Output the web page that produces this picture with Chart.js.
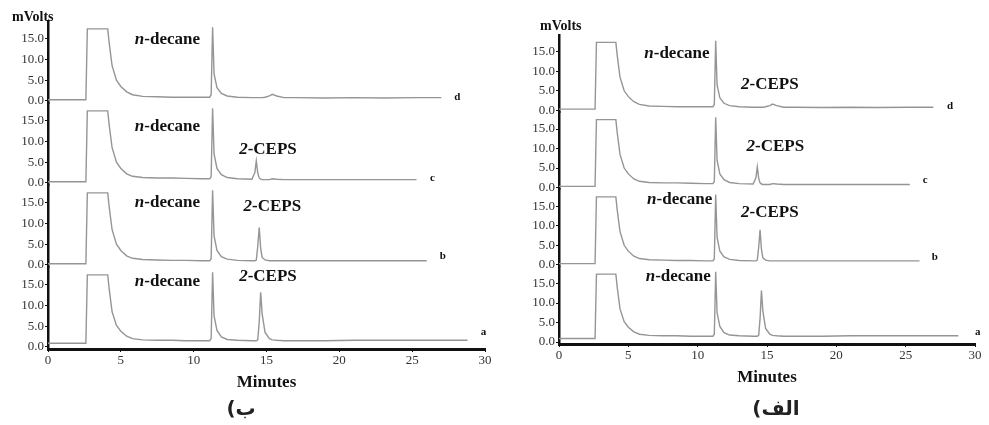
<!DOCTYPE html>
<html>
<head>
<meta charset="utf-8">
<script src="https://cdn.jsdelivr.net/npm/chart.js@4.4.1/dist/chart.umd.min.js"></script>
<style>
    body { margin: 0; background: #fff; width: 989px; height: 425px; position: relative; overflow: hidden; }
    #left_wrap { position: absolute; left: 0; top: 0; }
    #right_wrap { position: absolute; left: 505px; top: 0; }
    .caption { position: absolute; top: 396px; width: 100px; text-align: center; direction: rtl;
               font-family: "DejaVu Sans", sans-serif; font-weight: bold; font-size: 20px; color: #222; }
</style>
</head>
<body>
<div id="left_wrap"><canvas id="left_chart" width="500" height="400"></canvas></div>
<div id="right_wrap"><canvas id="right_chart" width="484" height="400"></canvas></div>
<div class="caption" style="left:191px;">ب)</div>
<div class="caption" style="left:726px;">الف)</div>
<script>
// Retention time (minutes)
const minutes = [0, 2.6, 2.7, 2.8, 4.1, 4.2, 4.4, 4.7, 5.0, 5.4, 5.8, 6.5, 7.5, 8.5, 9.5, 10.5,
    11.1, 11.2, 11.3, 11.4, 11.6, 11.9, 12.3, 13.0, 14.0, 14.2, 14.3, 14.4, 14.5, 14.6, 14.7, 14.9,
    15.2, 15.4, 15.7, 16.2, 17.0, 19.0, 21.0, 23.0, 25.3, 26.0, 27.0, 28.8];

// Signal (mVolts) of each trace
const trace_a = [0.9, 0.9, 17.4, 17.4, 17.4, 14, 8.5, 5.2, 3.8, 2.6, 2.0, 1.7, 1.6, 1.6, 1.5, 1.5,
    1.5, 2.0, 18, 7.5, 4.0, 2.4, 1.8, 1.6, 1.5, 1.5, 1.5, 1.7, 6.0, 13.2, 8.0, 3.5,
    2.0, 1.7, 1.6, 1.5, 1.5, 1.5, 1.6, 1.6, 1.6, 1.6, 1.6, 1.6];
const trace_b = [0.3, 0.3, 17.4, 17.4, 17.4, 14, 8.5, 5.0, 3.5, 2.2, 1.6, 1.3, 1.2, 1.1, 1.1, 1.0,
    1.0, 1.5, 18, 7, 3.5, 2.0, 1.4, 1.1, 1.0, 1.0, 1.2, 4.5, 9.0, 4.0, 1.8, 1.2,
    1.0, 1.0, 1.0, 1.0, 1.0, 1.0, 1.0, 1.0, 1.0, 1.0, null, null];
const trace_c = [0.3, 0.3, 17.4, 17.4, 17.4, 14, 8.5, 5.0, 3.5, 2.2, 1.6, 1.3, 1.2, 1.2, 1.1, 1.0,
    1.0, 1.5, 18, 7, 3.5, 2.0, 1.3, 1.0, 0.9, 2.5, 5.3, 2.4, 1.2, 0.9, 0.8, 0.8,
    0.8, 1.0, 0.9, 0.8, 0.8, 0.8, 0.8, 0.8, 0.8, null, null, null];
const trace_d = [0.3, 0.3, 17.4, 17.4, 17.4, 14, 8.5, 5.0, 3.5, 2.2, 1.5, 1.1, 1.0, 0.9, 0.9, 0.9,
    0.9, 1.5, 17.8, 6.5, 3.2, 1.8, 1.2, 0.9, 0.8, 0.8, 0.8, 0.8, 0.8, 0.8, 0.8, 0.9,
    1.2, 1.6, 1.2, 0.8, 0.8, 0.7, 0.8, 0.7, 0.8, 0.8, 0.8, null];

// Tick labels
const y_ticks = [0, 5, 10, 15];
const x_ticks = [0, 5, 10, 15, 20, 25, 30];

// Peak names [axis, minutes, mVolts, italic part, bold part]
const left_notes = [
    ['yd', 8.2, 14.7, 'n', '-decane'],
    ['yc', 8.2, 13.5, 'n', '-decane'],
    ['yc', 15.1, 8.0, '2', '-CEPS'],
    ['yb', 8.2, 15.0, 'n', '-decane'],
    ['yb', 15.4, 14.2, '2', '-CEPS'],
    ['ya', 8.2, 15.7, 'n', '-decane'],
    ['ya', 15.1, 16.9, '2', '-CEPS']
];
const right_notes = [
    ['yd', 8.5, 14.6, 'n', '-decane'],
    ['yd', 15.2, 6.7, '2', '-CEPS'],
    ['yc', 15.6, 10.4, '2', '-CEPS'],
    ['yb', 8.7, 16.7, 'n', '-decane'],
    ['yb', 15.2, 13.5, '2', '-CEPS'],
    ['ya', 8.6, 16.9, 'n', '-decane']
];
// Trace letters [axis, minutes, mVolts, letter]
const left_ends = [['yd', 28.1, 1.0, 'd'], ['yc', 26.4, 1.2, 'c'], ['yb', 27.1, 2.0, 'b'], ['ya', 29.9, 3.6, 'a']];
const right_ends = [['yd', 28.2, 1.1, 'd'], ['yc', 26.4, 1.9, 'c'], ['yb', 27.1, 2.0, 'b'], ['ya', 30.2, 2.6, 'a']];

const serif = '"Liberation Serif", "DejaVu Serif", serif';

// Draws the peak names, trace letters and the unit label
const text_plugin = {
    id: 'text_plugin',
    afterDraw: function(chart, args, opts) {
        const ctx = chart.ctx;
        const x_scale = chart.scales.x;
        ctx.save();
        ctx.fillStyle = '#111';
        ctx.textBaseline = 'middle';
        // peak names (italic prefix + bold text)
        opts.notes.forEach(function(note) {
            const px = x_scale.getPixelForValue(note[1]);
            const py = chart.scales[note[0]].getPixelForValue(note[2]);
            ctx.font = 'italic bold 17px ' + serif;
            const w1 = ctx.measureText(note[3]).width;
            ctx.font = 'bold 17px ' + serif;
            const w2 = ctx.measureText(note[4]).width;
            const left = px - (w1 + w2) / 2;
            ctx.textAlign = 'left';
            ctx.font = 'italic bold 17px ' + serif;
            ctx.fillText(note[3], left, py);
            ctx.font = 'bold 17px ' + serif;
            ctx.fillText(note[4], left + w1, py);
        });
        // trace letters
        ctx.font = 'bold 11px ' + serif;
        ctx.textAlign = 'center';
        opts.ends.forEach(function(end) {
            ctx.fillText(end[3], x_scale.getPixelForValue(end[1]), chart.scales[end[0]].getPixelForValue(end[2]));
        });
        // unit label above the axis
        ctx.font = 'bold 14px ' + serif;
        ctx.textAlign = 'left';
        ctx.fillText('mVolts', chart.chartArea.left + opts.unit_dx, chart.chartArea.top + opts.unit_dy);
        ctx.restore();
    }
};

// Build {x, y} points from the arrays
function to_points(values) {
    return minutes.map(function(m, i) {
        return { x: m, y: values[i] };
    });
}

// One stacked y axis for one trace
function make_y_scale(axis_width) {
    return {
        type: 'linear',
        position: 'left',
        stack: 'traces',
        stackWeight: 1,
        min: -0.5,
        max: 19.3,
        border: { color: '#111', width: 2.5 },
        grid: { drawOnChartArea: false, tickLength: 3, color: '#111' },
        afterBuildTicks: function(scale) {
            scale.ticks = y_ticks.map(function(v) { return { value: v }; });
        },
        ticks: {
            autoSkip: false,
            padding: 1,
            color: '#333',
            font: { family: serif, size: 13 },
            callback: function(value) { return Number(value).toFixed(1); }
        },
        afterFit: function(scale) { scale.width = axis_width; }
    };
}

function create_chart(canvas_id, setting) {
    const ctx = document.getElementById(canvas_id).getContext('2d');
    const line_style = { borderColor: '#959595', borderWidth: 1.4, pointRadius: 0, tension: 0, spanGaps: false };
    return new Chart(ctx, {
        type: 'line',
        data: {
            datasets: [
                Object.assign({ label: 'a', data: to_points(trace_a), yAxisID: 'ya' }, line_style),
                Object.assign({ label: 'b', data: to_points(trace_b), yAxisID: 'yb' }, line_style),
                Object.assign({ label: 'c', data: to_points(trace_c), yAxisID: 'yc' }, line_style),
                Object.assign({ label: 'd', data: to_points(trace_d), yAxisID: 'yd' }, line_style)
            ]
        },
        options: {
            responsive: false,
            animation: false,
            layout: { padding: setting.padding },
            scales: {
                x: {
                    type: 'linear',
                    min: 0,
                    max: 30,
                    border: { color: '#111', width: 3 },
                    grid: { drawOnChartArea: false, tickLength: 3, color: '#111' },
                    afterBuildTicks: function(scale) {
                        scale.ticks = x_ticks.map(function(v) { return { value: v }; });
                    },
                    ticks: { autoSkip: false, padding: 1, maxRotation: 0, color: '#333', font: { family: serif, size: 13 } },
                    title: {
                        display: true,
                        text: 'Minutes',
                        color: '#111',
                        font: { family: serif, size: 17, weight: 'bold' },
                        padding: { top: 2, bottom: 0 }
                    },
                    afterFit: function(scale) { scale.height = 44; }
                },
                ya: make_y_scale(setting.axis_width),
                yb: make_y_scale(setting.axis_width),
                yc: make_y_scale(setting.axis_width),
                yd: make_y_scale(setting.axis_width)
            },
            plugins: {
                legend: { display: false },
                tooltip: { enabled: false },
                text_plugin: setting.text
            }
        },
        plugins: [text_plugin]
    });
}

// Left panel (ب)
create_chart('left_chart', {
    axis_width: 48,
    padding: { top: 21, right: 15, bottom: 7, left: 0 },
    text: { notes: left_notes, ends: left_ends, unit_dx: -36, unit_dy: -4 }
});
// Right panel (الف)
create_chart('right_chart', {
    axis_width: 54,
    padding: { top: 35, right: 14, bottom: 12, left: 0 },
    text: { notes: right_notes, ends: right_ends, unit_dx: -19, unit_dy: -9 }
});
</script>
</body>
</html>
